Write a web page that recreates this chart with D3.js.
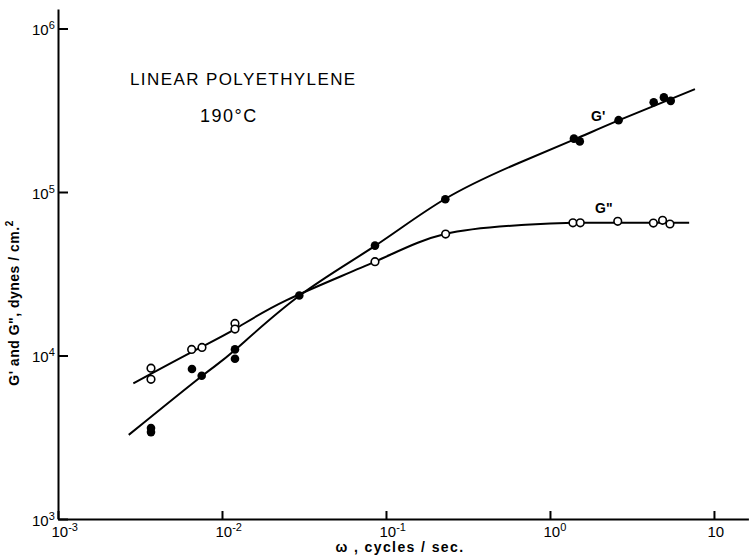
<!DOCTYPE html>
<html>
<head>
<meta charset="utf-8">
<script src="https://cdn.jsdelivr.net/npm/d3@7"></script>
<style>
  body { margin: 0; background: #fff; }
  svg { font-family: "Liberation Sans", Arial, sans-serif; }
  .axis path, .axis line { stroke: #000; stroke-width: 2; }
  .tickLabel { font-size: 15px; fill: #000; }
</style>
</head>
<body>
<div id="chart"></div>
<script>
// measured points, omega (cycles/sec) and modulus (dynes/cm^2)
var gPrimeW = [0.00369, 0.00369, 0.00656, 0.00752, 0.0120, 0.0120, 0.0296, 0.0857, 0.230, 1.40, 1.52, 2.62, 4.29, 4.95, 5.45];
var gPrimeV = [3600, 3400, 8260, 7520, 10900, 9550, 23300, 47000, 90200, 212000, 204000, 275000, 354000, 379000, 361000];

var gDoubleW = [0.00369, 0.00369, 0.00653, 0.00755, 0.0120, 0.0120, 0.0857, 0.231, 1.38, 1.53, 2.59, 4.27, 4.86, 5.39];
var gDoubleV = [8360, 7150, 10900, 11200, 15700, 14500, 37500, 55300, 64800, 64800, 66200, 64600, 67100, 63700];

// hand drawn fitted curves
var gPrimeCurveW = [0.00270, 0.00755, 0.0120, 0.0295, 0.0857, 0.229, 0.640, 1.40, 2.62, 7.66];
var gPrimeCurveV = [3270, 7500, 10800, 23100, 46800, 90600, 150000, 209000, 274000, 426000];

var gDoubleCurveW = [0.00288, 0.00653, 0.0120, 0.0248, 0.0857, 0.229, 0.640, 1.40, 7.06];
var gDoubleCurveV = [6760, 10500, 14500, 21800, 37500, 55300, 62600, 64900, 64800];

var xTicks = [1e-3, 1e-2, 1e-1, 1, 10];
var xTickBase = ["10", "10", "10", "10", "10"];
var xTickExp = ["-3", "-2", "-1", "0", ""];
var yTicks = [1e3, 1e4, 1e5, 1e6];
var yTickExp = ["3", "4", "5", "6"];

var width = 749, height = 559;

var svg = d3.select("#chart").append("svg")
  .attr("width", width)
  .attr("height", height);

var xScale = d3.scaleLog()
  .domain([1e-3, Math.pow(10, 1.21)])
  .range([58, 748.4]);

var yScale = d3.scaleLog()
  .domain([1e3, Math.pow(10, 6.12)])
  .range([519, 519 - 163.5 * 3.12]);

// x axis, ticks pointing up into the plot
var xAxis = svg.append("g")
  .attr("class", "axis x")
  .attr("transform", "translate(0," + 519 + ")")
  .call(d3.axisBottom(xScale).tickValues(xTicks).tickSizeInner(-8).tickSizeOuter(0).tickFormat(function () { return ""; }));

xAxis.selectAll(".tick text").remove();
xAxis.selectAll(".tick").each(function (d, i) {
  var t = d3.select(this).append("text")
    .attr("class", "tickLabel")
    .attr("x", -7)
    .attr("y", 18)
    .attr("text-anchor", "start");
  t.append("tspan").text(xTickBase[i]);
  if (xTickExp[i] != "")
    t.append("tspan").attr("dy", -6).style("font-size", "11px").text(xTickExp[i]);
});

// y axis, ticks pointing right
var yAxis = svg.append("g")
  .attr("class", "axis y")
  .attr("transform", "translate(" + 58 + ",0)")
  .call(d3.axisLeft(yScale).tickValues(yTicks).tickSizeInner(-10).tickSizeOuter(0).tickFormat(function () { return ""; }));

yAxis.selectAll(".tick text").remove();
yAxis.selectAll(".tick").each(function (d, i) {
  var t = d3.select(this).append("text")
    .attr("class", "tickLabel")
    .attr("x", -26)
    .attr("y", 6)
    .attr("text-anchor", "start");
  t.append("tspan").text("10");
  t.append("tspan").attr("dy", -6).style("font-size", "11px").text(yTickExp[i]);
});

// curves
var line = d3.line()
  .x(function (d) { return xScale(d[0]); })
  .y(function (d) { return yScale(d[1]); })
  .curve(d3.curveNatural);

svg.append("path")
  .datum(d3.zip(gPrimeCurveW, gPrimeCurveV))
  .attr("d", line)
  .attr("fill", "none")
  .attr("stroke", "#000")
  .attr("stroke-width", 2);

svg.append("path")
  .datum(d3.zip(gDoubleCurveW, gDoubleCurveV))
  .attr("d", line)
  .attr("fill", "none")
  .attr("stroke", "#000")
  .attr("stroke-width", 2);

// G'' open circles
svg.selectAll("circle.gdouble")
  .data(d3.zip(gDoubleW, gDoubleV))
  .enter().append("circle")
  .attr("class", "gdouble")
  .attr("cx", function (d) { return xScale(d[0]); })
  .attr("cy", function (d) { return yScale(d[1]); })
  .attr("r", 3.8)
  .attr("fill", "#fff")
  .attr("stroke", "#000")
  .attr("stroke-width", 1.6);

// G' filled circles
svg.selectAll("circle.gprime")
  .data(d3.zip(gPrimeW, gPrimeV))
  .enter().append("circle")
  .attr("class", "gprime")
  .attr("cx", function (d) { return xScale(d[0]); })
  .attr("cy", function (d) { return yScale(d[1]); })
  .attr("r", 4.3)
  .attr("fill", "#000");

// annotations
svg.append("text")
  .attr("x", 130).attr("y", 85)
  .style("font-size", "17px")
  .style("letter-spacing", "1.4px")
  .text("LINEAR POLYETHYLENE");

svg.append("text")
  .attr("x", 200).attr("y", 122)
  .style("font-size", "18px")
  .style("letter-spacing", "1.5px")
  .text("190°C");

svg.append("text")
  .attr("x", 591).attr("y", 121)
  .style("font-size", "14px")
  .style("font-weight", "bold")
  .text("G'");

svg.append("text")
  .attr("x", 595).attr("y", 213)
  .style("font-size", "14px")
  .style("font-weight", "bold")
  .text("G\"");

// axis titles
svg.append("text")
  .attr("x", 400).attr("y", 552)
  .attr("text-anchor", "middle")
  .style("font-size", "14px")
  .style("font-weight", "bold")
  .style("letter-spacing", "1.4px")
  .text("ω , cycles / sec.");

var yTitle = svg.append("text")
  .attr("transform", "translate(19," + 303 + ")rotate(-90)")
  .attr("text-anchor", "middle")
  .style("font-size", "14px")
  .style("font-weight", "bold")
  .style("letter-spacing", "0.5px");
yTitle.append("tspan").text("G' and G\",  dynes / cm.");
yTitle.append("tspan").attr("dy", -6).style("font-size", "10px").text("2");
</script>
</body>
</html>
